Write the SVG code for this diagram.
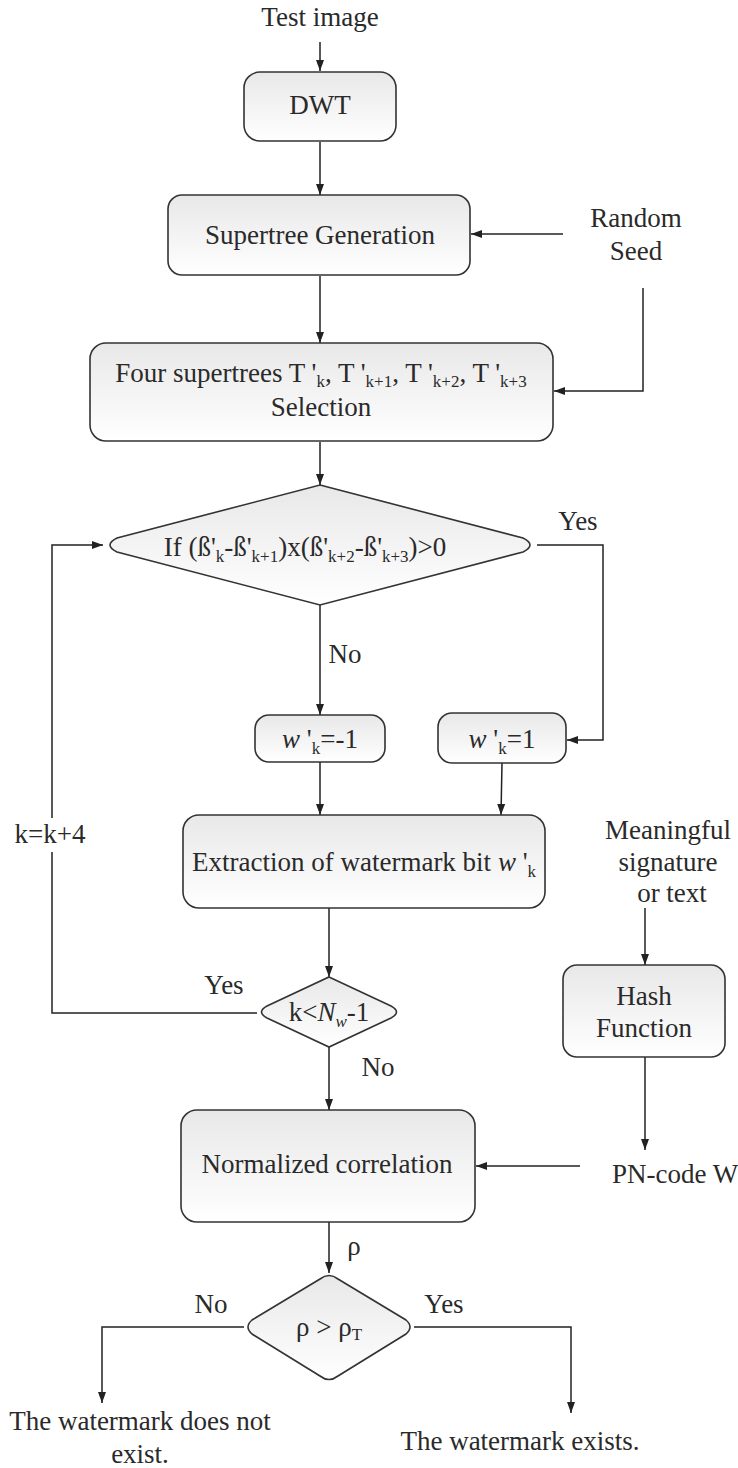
<svg xmlns="http://www.w3.org/2000/svg" width="738" height="1468" viewBox="0 0 738 1468" font-family="'Liberation Serif', Tinos, 'Times New Roman', 'DejaVu Serif', serif">
<defs>
<linearGradient id="g" x1="0" y1="0" x2="0" y2="1">
<stop offset="0" stop-color="#e8e8e8"/>
<stop offset="1" stop-color="#ffffff"/>
</linearGradient>
<marker id="ah" markerUnits="userSpaceOnUse" markerWidth="12" markerHeight="10" refX="11" refY="5" orient="auto">
<path d="M0,1 L11,5 L0,9 Z" fill="#222"/>
</marker>
<style>
text{font-family:'Liberation Serif', Tinos, 'Times New Roman', 'DejaVu Serif', serif;font-size:27px;fill:#2a2a2a;}
.n{fill:url(#g);stroke:#333;stroke-width:1.6;}
.c{fill:none;stroke:#222;stroke-width:1.5;}
.c2{fill:none;stroke:#222;stroke-width:1.5;marker-end:url(#ah);}
.m{text-anchor:middle;}
.s{font-size:17px;}
.i{font-style:italic;}
</style>
</defs>
<rect width="738" height="1468" fill="#fff"/>

<g id="connectors">
<path class="c2" d="M320,42 V71"/>
<path class="c2" d="M320,142 V195"/>
<path class="c2" d="M563,234 H471"/>
<path class="c2" d="M320,276 V343"/>
<path class="c2" d="M643,288 V391 H554"/>
<path class="c2" d="M320,442 V485"/>
<path class="c2" d="M537,545 H603 V740 H567"/>
<path class="c2" d="M320,605 V715"/>
<path class="c2" d="M320,762 V815"/>
<path class="c2" d="M502,763 L501,815"/>
<path class="c2" d="M329,908 V977"/>
<path class="c" d="M257,1013 H52 V852"/>
<path class="c2" d="M52,818 V545 H103"/>
<path class="c2" d="M329,1047 V1110"/>
<path class="c2" d="M645,908 V965"/>
<path class="c2" d="M645,1057 V1150"/>
<path class="c2" d="M580,1166 H476"/>
<path class="c2" d="M329,1222 V1273"/>
<path class="c2" d="M244,1327 H102 V1403"/>
<path class="c2" d="M414,1327 H571 V1413"/>
</g>

<g id="test-image"><text class="m" x="320" y="26">Test image</text></g>

<g id="dwt">
<rect class="n" x="244" y="72" width="152" height="69" rx="16"/>
<text class="m" x="320" y="114">DWT</text>
</g>

<g id="supertree-generation">
<rect class="n" x="168" y="195" width="302" height="80" rx="14"/>
<text class="m" x="320" y="244">Supertree Generation</text>
</g>

<g id="random-seed">
<text class="m" x="636" y="227">Random</text>
<text class="m" x="636" y="260">Seed</text>
</g>

<g id="four-supertrees">
<rect class="n" x="90" y="343" width="463" height="98" rx="16"/>
<text class="m" x="321" y="382">Four supertrees T '<tspan class="s" dy="5">k</tspan><tspan dy="-5">, T '</tspan><tspan class="s" dy="5">k+1</tspan><tspan dy="-5">, T '</tspan><tspan class="s" dy="5">k+2</tspan><tspan dy="-5">, T '</tspan><tspan class="s" dy="5">k+3</tspan></text>
<text class="m" x="321" y="416">Selection</text>
</g>

<g id="decision-beta">
<path class="n" d="M320,485 L523,538 Q537,545 523,552 L320,605 L117,552 Q103,545 117,538 Z"/>
<text class="m" x="305" y="556">If (ß'<tspan class="s" dy="6">k</tspan><tspan dy="-6">-ß'</tspan><tspan class="s" dy="6">k+1</tspan><tspan dy="-6">)x(ß'</tspan><tspan class="s" dy="6">k+2</tspan><tspan dy="-6">-ß'</tspan><tspan class="s" dy="6">k+3</tspan><tspan dy="-6">)&gt;0</tspan></text>
</g>

<g id="label-yes-1"><text class="m" x="578" y="530">Yes</text></g>
<g id="label-no-1"><text class="m" x="345" y="663">No</text></g>

<g id="w-minus">
<rect class="n" x="255" y="715" width="130" height="47" rx="14"/>
<text class="m" x="320" y="748"><tspan class="i">w</tspan> '<tspan class="s" dy="6">k</tspan><tspan dy="-6">=-1</tspan></text>
</g>

<g id="w-plus">
<rect class="n" x="438" y="713" width="128" height="50" rx="14"/>
<text class="m" x="502" y="748"><tspan class="i">w</tspan> '<tspan class="s" dy="6">k</tspan><tspan dy="-6">=1</tspan></text>
</g>

<g id="extraction">
<rect class="n" x="183" y="815" width="362" height="93" rx="16"/>
<text class="m" x="364" y="871">Extraction of watermark bit <tspan class="i">w</tspan> '<tspan class="s" dy="6">k</tspan></text>
</g>

<g id="label-k"><text class="m" x="50" y="843">k=k+4</text></g>

<g id="meaningful">
<text class="m" x="668" y="839">Meaningful</text>
<text class="m" x="668" y="871">signature</text>
<text class="m" x="672" y="902">or text</text>
</g>

<g id="decision-k">
<path class="n" d="M329,977 L391,1006 Q402,1012 391,1018 L329,1047 L267,1018 Q256,1012 267,1006 Z"/>
<text class="m" x="329" y="1021">k&lt;<tspan class="i">N</tspan><tspan class="s i" dy="6">w</tspan><tspan dy="-6">-1</tspan></text>
</g>

<g id="label-yes-2"><text class="m" x="224" y="994">Yes</text></g>
<g id="label-no-2"><text class="m" x="378" y="1076">No</text></g>

<g id="hash">
<rect class="n" x="563" y="965" width="162" height="92" rx="14"/>
<text class="m" x="644" y="1005">Hash</text>
<text class="m" x="644" y="1037">Function</text>
</g>

<g id="normalized">
<rect class="n" x="181" y="1110" width="294" height="112" rx="16"/>
<text class="m" x="327" y="1173">Normalized correlation</text>
</g>

<g id="pn-code"><text x="612" y="1183">PN-code W</text></g>

<g id="label-rho"><text class="m" x="354" y="1255">ρ</text></g>

<g id="decision-rho">
<path class="n" d="M320,1279 Q329,1272 338,1279 L406,1320 Q414,1327 406,1334 L338,1376 Q329,1383 320,1376 L252,1334 Q244,1327 252,1320 Z"/>
<text class="m" x="329" y="1336">ρ &gt; ρ<tspan class="s" dy="4">T</tspan></text>
</g>

<g id="label-no-3"><text class="m" x="211" y="1313">No</text></g>
<g id="label-yes-3"><text class="m" x="444" y="1313">Yes</text></g>

<g id="not-exist">
<text class="m" x="140" y="1430">The watermark does not</text>
<text class="m" x="140" y="1463">exist.</text>
</g>

<g id="exists"><text class="m" x="520" y="1450">The watermark exists.</text></g>
</svg>
